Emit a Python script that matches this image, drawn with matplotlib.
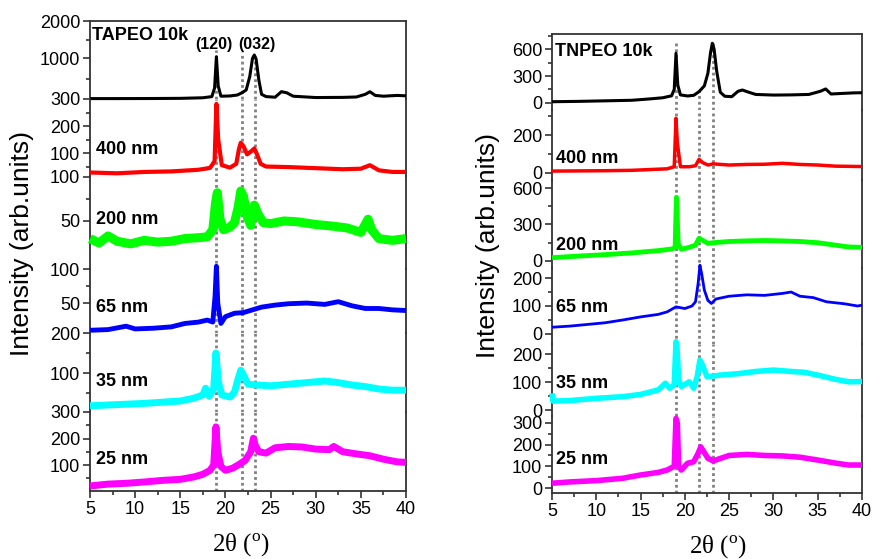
import numpy as np
import matplotlib
matplotlib.use('Agg')
import matplotlib.pyplot as plt

plt.rcParams['font.family'] = ['Liberation Sans', 'DejaVu Sans']
plt.rcParams['mathtext.fontset'] = 'custom'
plt.rcParams['mathtext.rm'] = 'Liberation Serif'

# ---- TAPEO (left column), 2theta in degrees, intensity in arb. units ----
tapeo_10k_x = [5, 8, 12, 15, 17.5, 18.5, 18.8, 19.0, 19.2, 19.5, 20.5, 21.3, 21.8, 22.3, 22.7, 23.0, 23.2, 23.4,
               23.7, 24.0, 24.5, 25.5, 26.2, 26.8, 27.5, 30, 33, 34.5, 35.5, 36.0, 36.6, 37.5, 39, 40]
tapeo_10k_y = [305, 305, 306, 308, 315, 330, 450, 1035, 480, 335, 338, 350, 378, 420, 640, 1000, 1075, 980,
               576, 360, 330, 322, 396, 380, 335, 318, 320, 325, 360, 395, 345, 335, 345, 340]

tapeo_400_x = [5, 8, 11, 14, 17, 18.3, 18.8, 19.0, 19.2, 19.6, 20.5, 21.2, 21.5, 21.7, 22.0, 22.4, 22.8, 23.2,
               23.5, 23.9, 24.5, 27, 30, 33, 35, 36, 37, 38.5, 40]
tapeo_400_y = [28, 25, 30, 32, 38, 45, 70, 282, 150, 55, 46, 60, 115, 138, 125, 95, 105, 117,
               95, 60, 50, 48, 44, 40, 42, 55, 36, 30, 30]

tapeo_200_x = [5, 6, 7, 8, 9.5, 11, 12.5, 14, 15.5, 17, 18, 18.6, 18.9, 19.1, 19.4, 19.8, 20.5, 21.0, 21.4,
               21.7, 22.0, 22.4, 22.8, 23.2, 23.6, 24.2, 25, 26.5, 28, 30, 32, 33.5, 35, 35.8, 36.2, 37, 38.5, 40]
tapeo_200_y = [30, 25, 33, 27, 24, 28, 26, 27, 30, 31, 32, 40, 70, 82, 52, 40, 43, 48, 65,
               84, 78, 55, 45, 68, 58, 48, 47, 50, 49, 46, 44, 42, 37, 52, 40, 30, 28, 30]

tapeo_65_x = [5, 7, 9, 10, 12, 14, 15.5, 17, 18, 18.6, 18.85, 19.0, 19.15, 19.5, 20, 21, 22, 23, 24, 25.5,
              27, 29, 31, 32.5, 34, 35.5, 37, 38.5, 40]
tapeo_65_y = [10, 11, 16, 12, 13, 15, 20, 22, 25, 22, 60, 104, 50, 20, 30, 35, 36, 40, 44, 47,
              49, 50, 48, 52, 46, 42, 42, 40, 39]

tapeo_35_x = [5, 7, 9, 11, 13, 15, 16.5, 17.5, 17.8, 18.2, 18.7, 18.95, 19.2, 19.6, 20.5, 21.0, 21.4, 21.7,
              22.0, 22.5, 23.5, 25, 27, 29, 31, 32.5, 34, 35.5, 37, 38.5, 40]
tapeo_35_y = [18, 20, 22, 24, 27, 30, 37, 45, 62, 42, 60, 150, 80, 45, 40, 52, 85, 107,
              95, 72, 70, 68, 72, 76, 80, 76, 70, 66, 60, 57, 57]

tapeo_25_x = [5, 7, 9, 11, 13, 15, 16.5, 17.5, 18.3, 18.7, 18.95, 19.15, 19.5, 20, 20.8, 21.5, 22.2, 22.8,
              23.1, 23.3, 23.7, 24.5, 25.5, 27, 28.5, 30, 31.5, 32, 33, 34.5, 36, 37.5, 39, 40]
tapeo_25_y = [21, 28, 31, 36, 42, 46, 55, 65, 80, 100, 244, 150, 95, 80, 88, 102, 118, 150,
              201, 175, 150, 145, 165, 170, 168, 160, 158, 170, 150, 142, 135, 122, 112, 110]

# ---- TNPEO (right column) ----
tnpeo_10k_x = [5, 8, 11, 14, 16, 17.5, 18.5, 18.8, 19.0, 19.2, 19.5, 20.3, 21.0, 21.6, 22.2, 22.6, 22.9, 23.1,
               23.3, 23.6, 24.0, 24.5, 25.3, 26.0, 26.5, 27.2, 28, 30, 32, 34, 35.3, 35.9, 36.5, 37.5, 39, 40]
tnpeo_10k_y = [14, 18, 24, 30, 45, 58, 80, 150, 553, 200, 90, 78, 85, 126, 190, 330, 560, 664,
               600, 350, 120, 75, 70, 130, 144, 120, 95, 88, 90, 95, 130, 156, 100, 105, 112, 114]

tnpeo_400_x = [5, 8, 11, 14, 16, 18, 18.8, 19.0, 19.15, 19.5, 20.5, 21.2, 21.6, 22.0, 22.6, 23.2, 25, 27,
               29, 31, 33, 35, 37, 40]
tnpeo_400_y = [10, 11, 12, 14, 18, 22, 33, 288, 160, 33, 33, 38, 72, 55, 42, 48, 42, 45,
               46, 51, 45, 42, 36, 34]

tnpeo_200_x = [5, 8, 11, 14, 17, 18.5, 18.9, 19.05, 19.25, 19.6, 20.5, 21.2, 21.6, 22.0, 22.6, 23.2, 25, 27,
               29, 31, 33, 35, 37, 38.5, 40]
tnpeo_200_y = [27, 40, 52, 66, 85, 98, 110, 524, 140, 96, 112, 130, 186, 170, 145, 150, 160, 165,
               168, 165, 160, 150, 130, 115, 112]

tnpeo_65_x = [5, 7, 9, 11, 13, 15, 17, 18, 19, 20, 20.8, 21.2, 21.5, 21.7, 21.9, 22.2, 22.6, 23.0, 23.5,
              25, 27, 29, 31, 32, 33, 34.5, 36, 38, 39.5, 40]
tnpeo_65_y = [24, 28, 34, 40, 50, 61, 70, 79, 97, 91, 100, 115, 181, 246, 215, 157, 120, 109, 125,
              135, 140, 138, 145, 150, 135, 130, 115, 108, 100, 103]

tnpeo_35_x = [5, 5.1, 7, 10, 13, 15, 17, 17.8, 18.3, 18.8, 19.0, 19.1, 19.3, 19.6, 20.5, 21.0, 21.4, 21.7,
              22.0, 22.5, 24, 26, 28, 30, 32, 33.5, 35, 37, 38.5, 40]
tnpeo_35_y = [60, 32, 34, 42, 48, 56, 72, 96, 78, 90, 244, 230, 110, 84, 101, 78, 120, 179,
              160, 119, 125, 130, 138, 143, 138, 135, 125, 110, 101, 102]

tnpeo_25_x = [5, 7, 10, 13, 15, 17, 18, 18.8, 19.0, 19.15, 19.3, 19.6, 20.3, 21.0, 21.5, 21.8, 22.1, 22.6,
              23.2, 25, 27, 29, 31, 33, 35, 37, 38.5, 40]
tnpeo_25_y = [22, 28, 34, 45, 60, 72, 83, 100, 321, 300, 100, 83, 114, 121, 160, 190, 170, 137,
              125, 150, 155, 150, 148, 142, 129, 115, 106, 106]

sample_labels = ['400 nm', '200 nm', '65 nm', '35 nm', '25 nm']
colors = ['black', '#ff0000', '#00ff00', '#0000ff', '#00ffff', '#ff00ff']
x_ticks = [5, 10, 15, 20, 25, 30, 35, 40]

left_series = [(tapeo_10k_x, tapeo_10k_y), (tapeo_400_x, tapeo_400_y), (tapeo_200_x, tapeo_200_y),
               (tapeo_65_x, tapeo_65_y), (tapeo_35_x, tapeo_35_y), (tapeo_25_x, tapeo_25_y)]
right_series = [(tnpeo_10k_x, tnpeo_10k_y), (tnpeo_400_x, tnpeo_400_y), (tnpeo_200_x, tnpeo_200_y),
                (tnpeo_65_x, tnpeo_65_y), (tnpeo_35_x, tnpeo_35_y), (tnpeo_25_x, tnpeo_25_y)]

left_ylims = [(300, 2000), (15, 300), (-4.5, 101), (6, 100), (2.5, 200), (2, 300)]
left_major = [[300, 1000, 2000], [100, 200], [50, 100], [50, 100], [100, 200], [100, 200, 300]]
left_minor = [[600, 1450], [50, 150, 250], [75], [75], [50, 150], [50, 150, 250]]
right_ylims = [(-78, 767), (-37, 332), (-58, 666), (-36, 236), (-21, 236), (-23, 332)]
right_major = [[0, 300, 600], [0, 200], [0, 300, 600], [0, 100, 200], [0, 100, 200], [0, 100, 200, 300]]
right_minor = [[150, 450, 750], [100, 300], [150, 450], [50, 150], [50, 150], [50, 150, 250]]

left_peaks = [19.0, 21.8, 23.25]
right_peaks = [19.05, 21.65, 23.15]

W, H = 873, 559
fig = plt.figure(figsize=(W / 100, H / 100), dpi=100)
frame_col = '#333333'


def add_panel(left, right, top, bottom):
    return fig.add_axes([left / W, 1 - bottom / H, (right - left) / W, (bottom - top) / H])


def draw_column(x0, x1, bounds, series, ylims, major, minor, peaks, top_frac, widths, sqrt_first):
    n = len(series)
    for i in range(n):
        ax = add_panel(x0, x1, bounds[i], bounds[i + 1])
        if i == 0 and sqrt_first:
            # top TAPEO panel is on a square-root intensity scale
            ax.set_yscale('function', functions=(np.sqrt, np.square))
        ax.set_xlim(5, 40)
        ax.set_ylim(*ylims[i])
        ax.patch.set_alpha(0)
        for k, p in enumerate(peaks):
            ymax = top_frac[k] if i == 0 else 1
            ax.axvline(p, ymin=0, ymax=ymax, color='#808080', lw=2.0,
                       linestyle=(0, (1, 1.1)), dash_capstyle='butt', zorder=1)
        xs, ys = series[i]
        ax.plot(xs, ys, color=colors[i], lw=widths[i], clip_on=False, zorder=3,
                solid_joinstyle='round', solid_capstyle='butt')
        ax.set_yticks(major[i])
        ax.set_yticks(minor[i], minor=True)
        ax.set_yticklabels([str(v) for v in major[i]], fontsize=13)
        for side in ['left', 'right', 'top', 'bottom']:
            ax.spines[side].set_color(frame_col)
            ax.spines[side].set_linewidth(1.3)
        if i > 0:
            ax.spines['top'].set_visible(False)
        if i < n - 1:
            ax.spines['bottom'].set_visible(False)
            ax.set_xticks([])
        else:
            ax.set_xticks(x_ticks)
            ax.set_xticks(np.arange(7.5, 40, 5), minor=True)
            ax.set_xticklabels([str(v) for v in x_ticks], fontsize=13)
        ax.tick_params(axis='both', which='major', direction='out', length=5, width=1.2,
                       color=frame_col, pad=2)
        ax.tick_params(axis='both', which='minor', direction='out', length=3, width=1.2,
                       color=frame_col)


draw_column(90, 406, [21, 99, 176, 269, 333, 412, 491], left_series, left_ylims,
            left_major, left_minor, left_peaks, [0.63, 0.6, 0.55],
            [2.2, 3.0, 6.5, 3.5, 5.0, 5.0], True)
draw_column(552, 862, [34, 110, 180, 268, 344, 416, 493], right_series, right_ylims,
            right_major, right_minor, right_peaks, [0.92, 0.25, 0.92],
            [2.2, 2.5, 3.5, 2.0, 4.0, 4.0], False)


# sample names
def label(px, py, s, size=13):
    fig.text(px / W, 1 - py / H, s, ha='left', va='center', fontsize=size, fontweight='bold')


label(92, 36, 'TAPEO 10k')
label(195, 44, '(120)', 11.5)
label(238, 44, '(032)', 11.5)
for s, py in zip(sample_labels, [150, 219, 307, 382, 460]):
    label(96, py, s)

label(555, 52, 'TNPEO 10k')
for s, py in zip(sample_labels, [158, 245, 307, 384, 460]):
    label(556, py, s)

fig.text(22 / W, 1 - 243 / H, 'Intensity (arb.units)', rotation=90, ha='center', va='center', fontsize=19)
fig.text(488 / W, 1 - 245 / H, 'Intensity (arb.units)', rotation=90, ha='center', va='center', fontsize=19)
fig.text(241 / W, 1 - 545 / H, r'2θ ($^{\rm o}$)', ha='center', va='center', fontsize=18,
         family='Liberation Serif')
fig.text(718 / W, 1 - 547 / H, r'2θ ($^{\rm o}$)', ha='center', va='center', fontsize=18,
         family='Liberation Serif')

fig.savefig('out.png', dpi=100)
